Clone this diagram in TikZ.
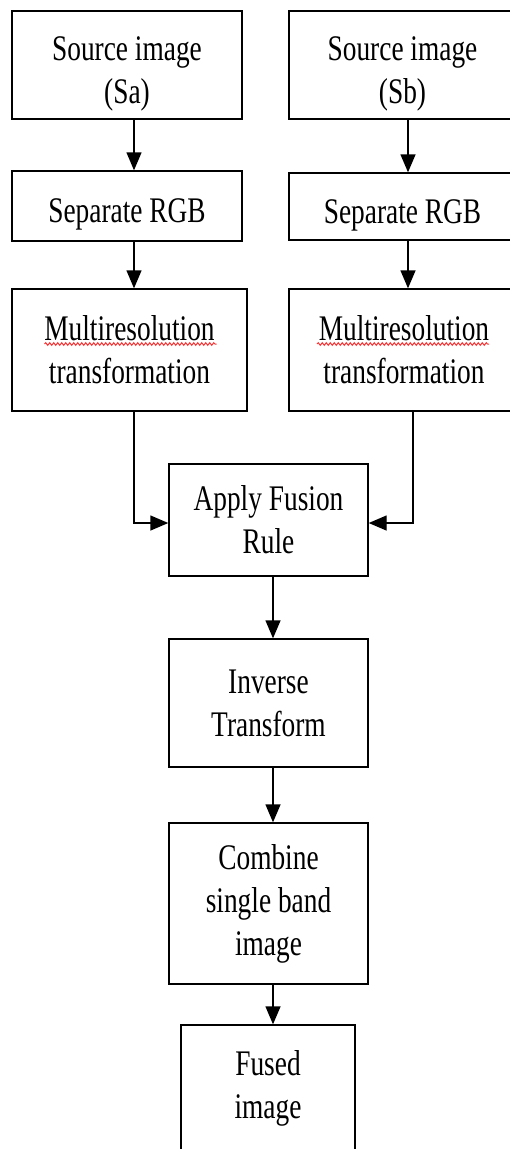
\documentclass[tikz,border=0pt]{standalone}
\usepackage{fontspec}
\setmainfont{Liberation Serif}[FakeStretch=0.76]
\usepackage{tikz}
\usetikzlibrary{positioning}
\usetikzlibrary{arrows.meta,decorations.pathmorphing}
\newcommand{\topstrut}{\rule{0pt}{41pt}}
\tikzset{
  stagebox/.style={draw, line width=1.4pt, inner sep=0pt, align=center,
    font=\fontsize{36}{43}\selectfont},
  flow/.style={line width=1.4pt, -{Triangle[length=18pt,width=15pt]}},
  spellmark/.style={red!80!white, line width=1pt, decorate,
    decoration={snake, amplitude=1.3pt, segment length=4pt}}
}

\begin{document}
\begin{tikzpicture}[x=1pt, y=-1pt]

\clip (0,0) rectangle (510,1149);

% Source images
\node[stagebox, minimum width=230pt, minimum height=108pt] (srca) at (127,65) {\topstrut Source image\\(Sa)};
\node[stagebox, minimum width=227pt, minimum height=108pt] (srcb) at (402.5,65) {\topstrut Source image\\(Sb)};

% Separate RGB
\node[stagebox, minimum width=230pt, minimum height=70pt] (sepa) at (127,206) {\topstrut Separate RGB};
\node[stagebox, minimum width=227pt, minimum height=67pt] (sepb) at (402.5,206.5) {\topstrut Separate RGB};

% Multiresolution
\node[stagebox, minimum width=235pt, minimum height=122pt] (mra) at (129.5,350) {Multiresolution\\transformation};
\node[stagebox, minimum width=230pt, minimum height=122pt] (mrb) at (404,350) {Multiresolution\\transformation};

% Spell check marks
\draw[spellmark] ([shift={(-85,-6)}]mra.center) -- ++(172,0);
\draw[spellmark] ([shift={(-87,-6)}]mrb.center) -- ++(172,0);

% Middle column
\node[stagebox, minimum width=199pt, minimum height=112pt] (fuse) at (268.5,520) {Apply Fusion\\Rule};
\node[stagebox, minimum width=199pt, minimum height=128pt] (inv) at (268.5,703) {Inverse\\Transform};
\node[stagebox, minimum width=199pt, minimum height=161pt] (comb) at (268.5,903.5) {Combine\\single band\\image};
\node[stagebox, minimum width=174pt, minimum height=126pt] (fused) at (268,1088) {Fused\\image};

% Arrows
\draw[flow] ([xshift=7pt]srca.south) -- ([xshift=7pt]sepa.north);
\draw[flow] ([xshift=7pt]sepa.south) -- ([xshift=4.5pt]mra.north);
\draw[flow] ([xshift=5.5pt]srcb.south) -- ([xshift=5.5pt]sepb.north);
\draw[flow] ([xshift=5.5pt]sepb.south) -- ([xshift=4pt]mrb.north);

\draw[flow] ([xshift=4.5pt]mra.south) |- ([yshift=-3pt]fuse.west);
\draw[flow] ([xshift=9pt]mrb.south) |- ([yshift=-3pt]fuse.east);

\draw[flow] ([xshift=4.5pt]fuse.south) -- ([xshift=4.5pt]inv.north);
\draw[flow] ([xshift=4.5pt]inv.south) -- ([xshift=4.5pt]comb.north);
\draw[flow] ([xshift=4.5pt]comb.south) -- ([xshift=5pt]fused.north);

\end{tikzpicture}
\end{document}
